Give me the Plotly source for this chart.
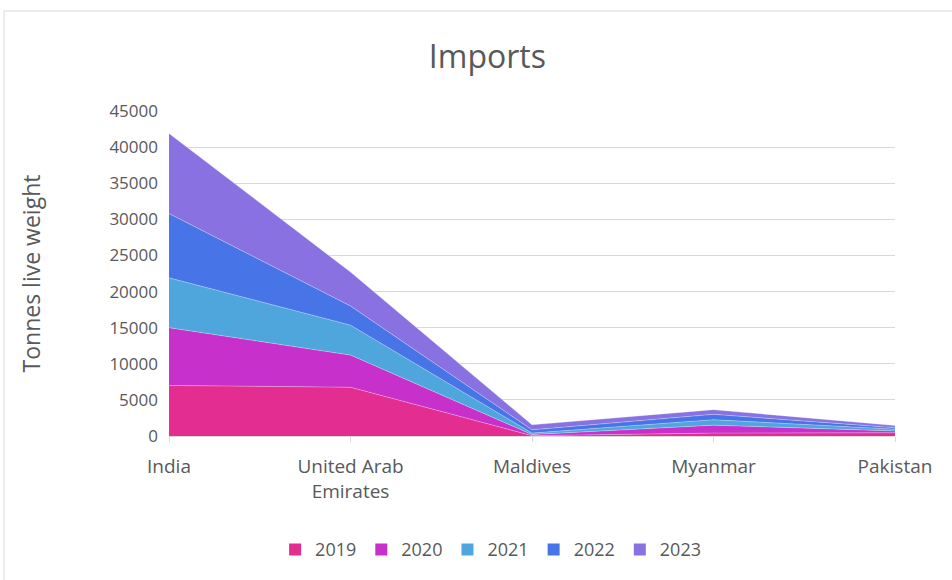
import plotly.graph_objects as go

# Imports by partner country, tonnes live weight
countries = ["India", "United Arab<br>Emirates", "Maldives", "Myanmar", "Pakistan"]
years = ["2019", "2020", "2021", "2022", "2023"]
imports_2019 = [7000, 6750, 50, 400, 450]
imports_2020 = [8000, 4450, 150, 1100, 250]
imports_2021 = [6900, 4150, 200, 750, 250]
imports_2022 = [8900, 2650, 450, 750, 200]
imports_2023 = [11100, 4700, 700, 650, 300]
y_ticks = [0, 5000, 10000, 15000, 20000, 25000, 30000, 35000, 40000, 45000]

series = [imports_2019, imports_2020, imports_2021, imports_2022, imports_2023]
colors = ["#E32D91", "#C830CC", "#4EA6DC", "#4775E7", "#8971E1"]

FONT = "Open Sans"
GREY = "#595959"

fig = go.Figure()
for name, vals, col in zip(years, series, colors):
    fig.add_trace(go.Scatter(
        x=countries, y=vals, name=name, showlegend=False,
        mode="lines", stackgroup="imports",
        line=dict(width=0.6, color="rgba(255,255,255,0.5)"),
        fillcolor=col,
    ))

# square legend swatches, one per year
for name, col in zip(years, colors):
    fig.add_trace(go.Scatter(
        x=[None], y=[None], name=name, mode="markers",
        marker=dict(symbol="square", size=14, color=col),
        hoverinfo="skip",
    ))

fig.update_layout(
    width=952, height=580,
    margin=dict(l=169, r=57, t=111, b=144),
    paper_bgcolor="white", plot_bgcolor="white",
    title=dict(text="Imports", x=0.512, xanchor="center", y=0.902, yanchor="middle",
               font=dict(family=FONT, size=32, color=GREY)),
    font=dict(family=FONT, color=GREY),
    showlegend=True,
    legend=dict(orientation="h", x=0.443, xanchor="center", y=-0.35, yanchor="middle",
                font=dict(family=FONT, size=18, color=GREY),
                itemsizing="constant", itemwidth=30, traceorder="normal"),
    xaxis=dict(
        type="category", range=[0, 4], showgrid=False,
        showline=True, linecolor="#D9D9D9", linewidth=1,
        ticks="outside", ticklen=5, tickcolor="#D9D9D9",
        ticklabelstandoff=8,
        tickfont=dict(family=FONT, size=19, color=GREY),
        fixedrange=True,
    ),
    yaxis=dict(
        range=[0, 45000], tickvals=y_ticks, ticktext=[str(v) for v in y_ticks],
        showgrid=True, gridcolor="#D9D9D9", gridwidth=1,
        zeroline=False, showline=False, ticks="", ticklabelstandoff=10,
        tickfont=dict(family=FONT, size=17, color=GREY),
        title=dict(text="Tonnes live weight", standoff=62,
                   font=dict(family=FONT, size=23, color=GREY)),
    ),
    shapes=[dict(type="rect", xref="paper", yref="paper",
                 x0=(4 - 169) / 726, x1=(960 - 169) / 726,
                 y0=(436 - 590) / 325, y1=(436 - 11) / 325,
                 line=dict(color="#D9D9D9", width=1), fillcolor="rgba(0,0,0,0)",
                 layer="below")],
)

fig.write_html("out.html")
